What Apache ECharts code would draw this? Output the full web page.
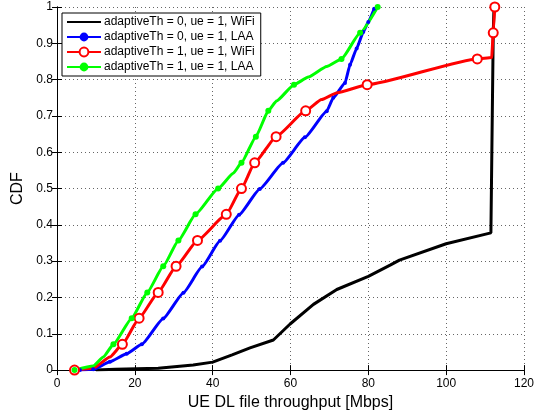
<!DOCTYPE html>
<html>
<head>
<meta charset="utf-8">
<script src="https://cdn.jsdelivr.net/npm/echarts@6/dist/echarts.min.js"></script>
<style>
  html, body { margin: 0; padding: 0; background: #fff; }
  #chart { width: 537px; height: 416px; }
</style>
</head>
<body>
<div id="chart"></div>
<script>
// legend names, in MATLAB plot order
var seriesNames = [
  'adaptiveTh = 0, ue = 1, WiFi',
  'adaptiveTh = 0, ue = 1, LAA',
  'adaptiveTh = 1, ue = 1, WiFi',
  'adaptiveTh = 1, ue = 1, LAA'
];

// adaptiveTh = 0, WiFi (black, no markers)
var wifiTh0X = [10, 15, 26, 35, 40, 45, 49.6, 55.6, 59.9, 65.9, 71.9, 80, 85.6, 88, 100, 111.5, 112.1, 112.3];
var wifiTh0Y = [0, 0.002, 0.005, 0.014, 0.022, 0.042, 0.061, 0.083, 0.127, 0.181, 0.222, 0.258, 0.289, 0.303, 0.348, 0.378, 0.93, 1.0];

// adaptiveTh = 0, LAA (blue, small dots)
var laaTh0X = [5.9, 9.3, 13.6, 17.9, 21.8, 27.3, 32.5, 37.3, 41.9, 46.8, 52.1, 58.1, 63.7, 69.3, 71.0, 74.0, 75.3, 77.0, 78.7, 80.0, 81.5];
var laaTh0Y = [0, 0.002, 0.023, 0.045, 0.071, 0.142, 0.213, 0.285, 0.356, 0.428, 0.499, 0.571, 0.641, 0.713, 0.75, 0.791, 0.841, 0.886, 0.931, 0.959, 0.995];

// adaptiveTh = 1, WiFi (red, open circles); mark = 1 where a circle is drawn
var wifiTh1X = [4.5, 9.3, 13.6, 16.8, 21.1, 26.0, 30.6, 36.1, 43.5, 47.4, 50.8, 56.3, 63.9, 68, 72, 79.7, 108.0, 111.7, 112.1, 112.5];
var wifiTh1Y = [0, 0.005, 0.036, 0.071, 0.143, 0.214, 0.286, 0.357, 0.429, 0.5, 0.571, 0.643, 0.714, 0.745, 0.764, 0.786, 0.857, 0.861, 0.929, 1.0];
var wifiTh1Mark = [1, 0, 0, 1, 1, 1, 1, 1, 1, 1, 1, 1, 1, 0, 0, 1, 1, 0, 1, 1];

// adaptiveTh = 1, LAA (green, filled dots)
var laaTh1X = [4.5, 9.3, 11.9, 14.5, 19.2, 23.2, 27.3, 31.2, 35.6, 41.4, 45.3, 47.4, 51.1, 54.3, 56.4, 60.9, 64.6, 69.3, 73.1, 77.9, 82.4];
var laaTh1Y = [0, 0.011, 0.036, 0.071, 0.143, 0.214, 0.286, 0.357, 0.429, 0.5, 0.542, 0.571, 0.643, 0.714, 0.741, 0.786, 0.807, 0.836, 0.857, 0.929, 1.0];
var laaTh1Mark = [1, 0, 0, 1, 1, 1, 1, 1, 1, 1, 0, 1, 1, 1, 0, 1, 0, 0, 1, 1, 1];

function pts(xs, ys, marks) {
  return xs.map(function (x, i) {
    var item = { value: [x, ys[i]] };
    if (marks && !marks[i]) item.symbol = 'none';
    return item;
  });
}

var font = 'Liberation Sans, Arial, Helvetica, sans-serif';
var chart = echarts.init(document.getElementById('chart'), null, { renderer: 'canvas' });

var option = {
  animation: false,
  backgroundColor: '#fff',
  textStyle: { fontFamily: font },
  grid: { left: 57, right: 13, top: 7, bottom: 39 },
  legend: {
    orient: 'vertical',
    left: 62,
    top: 13,
    padding: [3, 6, 3, 4],
    itemWidth: 34,
    itemHeight: 11,
    itemGap: 3,
    backgroundColor: '#fff',
    borderColor: '#000',
    borderWidth: 1,
    textStyle: { fontSize: 12, color: '#000', fontFamily: font, padding: [0, 0, 0, -2] },
    data: [
      { name: seriesNames[0], itemStyle: { opacity: 0 } },
      seriesNames[1],
      seriesNames[2],
      seriesNames[3]
    ]
  },
  xAxis: [{
    type: 'value', min: 0, max: 120, interval: 20,
    name: 'UE DL file throughput [Mbps]', nameLocation: 'middle', nameGap: 19,
    nameTextStyle: { fontSize: 16, color: '#000', fontFamily: font },
    axisLine: { show: true, lineStyle: { color: '#000', width: 1 } },
    axisTick: { inside: true, length: 5, lineStyle: { color: '#000' } },
    axisLabel: { fontSize: 12, color: '#000', margin: 8 },
    splitLine: { show: true, lineStyle: { type: [1, 3], color: '#666', width: 1 } }
  }, {
    type: 'value', min: 0, max: 120, interval: 20, position: 'top',
    axisLine: { show: true, lineStyle: { color: '#000', width: 1 } },
    axisTick: { inside: true, length: 5, lineStyle: { color: '#000' } },
    axisLabel: { show: false },
    splitLine: { show: false }
  }],
  yAxis: [{
    type: 'value', min: 0, max: 1, interval: 0.1,
    name: 'CDF', nameLocation: 'middle', nameGap: 23,
    nameTextStyle: { fontSize: 16, color: '#000', fontFamily: font },
    axisLine: { show: true, lineStyle: { color: '#000', width: 1 } },
    axisTick: { inside: true, length: 5, lineStyle: { color: '#000' } },
    axisLabel: {
      fontSize: 12, color: '#000', margin: 4,
      formatter: function (v) { return String(Math.round(v * 10) / 10); }
    },
    splitLine: { show: true, lineStyle: { type: [1, 3], color: '#666', width: 1 } }
  }, {
    type: 'value', min: 0, max: 1, interval: 0.1, position: 'right',
    axisLine: { show: true, lineStyle: { color: '#000', width: 1 } },
    axisTick: { inside: true, length: 5, lineStyle: { color: '#000' } },
    axisLabel: { show: false },
    splitLine: { show: false }
  }],
  series: [
    {
      name: seriesNames[0], type: 'line',
      data: pts(wifiTh0X, wifiTh0Y),
      symbol: 'none',
      lineStyle: { color: '#000', width: 3 },
      itemStyle: { color: '#000' }
    },
    {
      name: seriesNames[1], type: 'line',
      data: pts(laaTh0X, laaTh0Y),
      symbol: 'circle', symbolSize: 4,
      smooth: 0.15, smoothMonotone: 'x',
      lineStyle: { color: '#0000ff', width: 3 },
      itemStyle: { color: '#0000ff' }
    },
    {
      name: seriesNames[2], type: 'line',
      data: pts(wifiTh1X, wifiTh1Y, wifiTh1Mark),
      symbol: 'emptyCircle', symbolSize: 9,
      smooth: 0.15, smoothMonotone: 'x',
      lineStyle: { color: '#ff0000', width: 3 },
      itemStyle: { color: '#ff0000', borderColor: '#ff0000', borderWidth: 2 }
    },
    {
      name: seriesNames[3], type: 'line',
      data: pts(laaTh1X, laaTh1Y, laaTh1Mark),
      symbol: 'circle', symbolSize: 6,
      smooth: 0.15, smoothMonotone: 'x',
      lineStyle: { color: '#00ff00', width: 3 },
      itemStyle: { color: '#00ff00' }
    }
  ]
};

chart.setOption(option);
</script>
</body>
</html>
